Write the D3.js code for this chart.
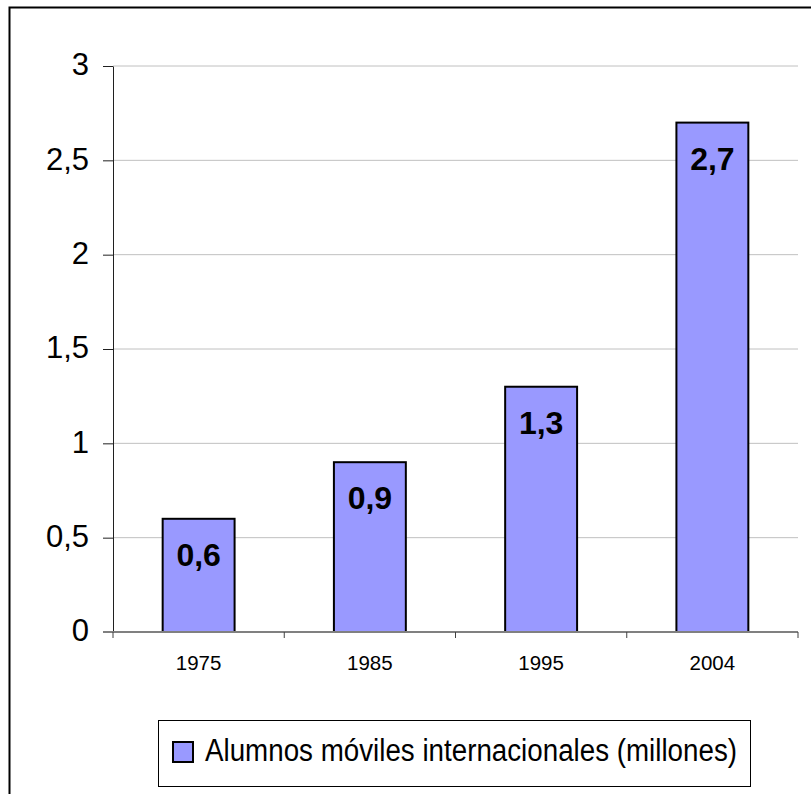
<!DOCTYPE html>
<html><head><meta charset="utf-8">
<script src="https://cdn.jsdelivr.net/npm/d3@7"></script>
<style>body{margin:0;background:#fff}svg{display:block}text{font-family:"Liberation Sans",Arial,sans-serif}</style>
</head><body>
<script>
const categories = ["1975","1985","1995","2004"];
const values = [0.6, 0.9, 1.3, 2.7];
const valueLabels = ["0,6","0,9","1,3","2,7"];
const yTicks = [0, 0.5, 1, 1.5, 2, 2.5, 3];
const yTickLabels = ["0","0,5","1","1,5","2","2,5","3"];
const seriesName = "Alumnos móviles internacionales (millones)";

(function(){
const W = 811, H = 794;
const svg = d3.select("body").append("svg").attr("width", W).attr("height", H);
svg.append("rect").attr("x",9.5).attr("y",7.5).attr("width",W+10).attr("height",H+10)
  .attr("fill","#fff").attr("stroke","#000").attr("stroke-width",2);

const mLeft = 113, mRight = 798, mTop = 66, mBottom = 632;
const x = d3.scaleBand().domain(categories).range([mLeft, mRight]).paddingInner(0.58).paddingOuter(0.29);
const xb = d3.scaleBand().domain(categories).range([mLeft, mRight]);
const y = d3.scaleLinear().domain([0, 3]).range([mBottom, mTop]);

// gridlines
svg.append("g").selectAll("line").data(yTicks.filter(d => d > 0)).join("line")
  .attr("x1", mLeft).attr("x2", mRight).attr("y1", d => y(d)).attr("y2", d => y(d))
  .attr("stroke", "#c0c0c0").attr("stroke-width", 1);

// y axis
const yAxis = d3.axisLeft(y).tickValues(yTicks).tickFormat((d,i) => yTickLabels[i]).tickSize(10).tickSizeOuter(0).tickPadding(14);
const gy = svg.append("g").attr("transform", `translate(${mLeft},0)`).call(yAxis);
gy.attr("font-size", 31).attr("font-family", "Liberation Sans, Arial, sans-serif");
gy.select(".domain").attr("stroke", "#202020");
gy.selectAll(".tick line").attr("stroke", "#202020");
gy.selectAll("text").attr("fill", "#000").attr("dy", "0.28em");

// bars
svg.append("g").selectAll("rect").data(values).join("rect")
  .attr("x", (d,i) => x(categories[i])).attr("width", x.bandwidth())
  .attr("y", d => y(d)).attr("height", d => mBottom - y(d))
  .attr("fill", "#9999ff").attr("stroke", "#000").attr("stroke-width", 2);

// value labels
svg.append("g").selectAll("text").data(values).join("text")
  .attr("x", (d,i) => x(categories[i]) + x.bandwidth()/2)
  .attr("y", d => y(d) + 47)
  .attr("text-anchor", "middle").attr("font-size", 32).attr("font-weight", "bold")
  .text((d,i) => valueLabels[i]);

// x axis
const gx = svg.append("g").attr("transform", `translate(0,${mBottom})`);
gx.append("line").attr("x1", mLeft - 10).attr("x2", mRight).attr("stroke", "#808080").attr("stroke-width", 2);
gx.selectAll("line.t").data(d3.range(categories.length + 1)).join("line").attr("class","t")
  .attr("x1", i => mLeft + i * xb.step()).attr("x2", i => mLeft + i * xb.step())
  .attr("y1", 0).attr("y2", 6).attr("stroke", "#404040");
gx.selectAll("text").data(categories).join("text")
  .attr("x", d => xb(d) + xb.bandwidth()/2).attr("y", 38)
  .attr("text-anchor", "middle").attr("font-size", 20.5).text(d => d);

// legend
const lg = svg.append("g");
lg.append("rect").attr("x", 158.5).attr("y", 720.5).attr("width", 592).attr("height", 66)
  .attr("fill", "#fff").attr("stroke", "#000").attr("stroke-width", 1);
lg.append("rect").attr("x", 173).attr("y", 742).attr("width", 20).attr("height", 20)
  .attr("fill", "#9999ff").attr("stroke", "#000").attr("stroke-width", 2);
lg.append("text").attr("x", 205).attr("y", 761).attr("font-size", 31).attr("textLength", 532)
  .attr("lengthAdjust","spacingAndGlyphs").text(seriesName);
})();
</script>
</body></html>
